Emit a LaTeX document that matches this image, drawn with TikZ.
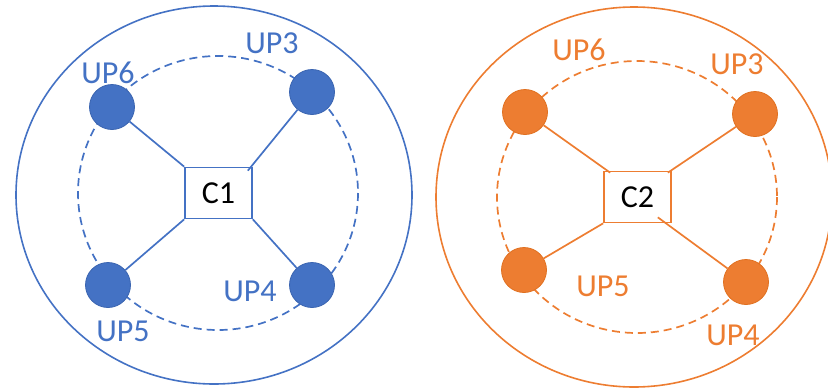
\documentclass[tikz,border=0pt]{standalone}
\usepackage{fontspec}
\setmainfont{Carlito}
\begin{document}
\begin{tikzpicture}[x=1pt,y=-1pt,
  every node/.style={inner sep=0pt},
  lbl/.style={font=\fontsize{32}{32}\selectfont},
  upnode/.style={circle,minimum size=45pt,line width=0.8pt},
  ctrl/.style={draw,line width=1.7pt,minimum width=67pt,minimum height=51pt,fill=white,font=\fontsize{32}{32}\selectfont},
  link/.style={line width=1.7pt},
  ring/.style={line width=1.7pt,dash pattern=on 8pt off 5pt},
  outer/.style={line width=1.6pt}]
\definecolor{offblue}{HTML}{4472C4}
\definecolor{offblueD}{HTML}{3A64B0}
\definecolor{offorange}{HTML}{ED7D31}
\definecolor{offorangeD}{HTML}{E07020}
\useasboundingbox (0,0) rectangle (828,389);
% ---------- left cluster ----------
\draw[outer,offblue] (214,195) ellipse [x radius=198, y radius=189];
\draw[ring,offblue] (218,193) ellipse [x radius=140, y radius=137];
\node[ctrl,draw=offblue] (c1) at (218.5,193) {C1};
\node[upnode,fill=offblue,draw=offblueD] (l6) at (112,107) {};
\node[upnode,fill=offblue,draw=offblueD] (l3) at (312,92) {};
\node[upnode,fill=offblue,draw=offblueD] (l5) at (108,285) {};
\node[upnode,fill=offblue,draw=offblueD] (l4) at (312,285) {};
\draw[link,offblue] (l6) -- (c1.north west);
\draw[link,offblue] (l3) -- ([xshift=-5pt,yshift=-4pt]c1.north east);
\draw[link,offblue] (l5) -- (c1.south west);
\draw[link,offblue] (l4) -- (c1.south east);
\node[lbl,text=offblue] (tl6) at (108,73) {UP6};
\node[lbl,text=offblue] (tl3) at (272,43) {UP3};
\node[lbl,text=offblue] (tl4) at (250,291) {UP4};
\node[lbl,text=offblue] (tl5) at (123,331) {UP5};
% ---------- right cluster ----------
\draw[outer,offorange] (634,197) ellipse [x radius=198, y radius=190];
\draw[ring,offorange] (637,197) ellipse [x radius=140, y radius=136];
\node[ctrl,draw=offorange] (c2) at (637.5,197) {C2};
\node[upnode,fill=offorange,draw=offorangeD] (r6) at (525,112) {};
\node[upnode,fill=offorange,draw=offorangeD] (r3) at (755,114) {};
\node[upnode,fill=offorange,draw=offorangeD] (r5) at (524,270) {};
\node[upnode,fill=offorange,draw=offorangeD] (r4) at (746,282) {};
\draw[link,offorange] (r6) -- ([xshift=7pt,yshift=-2pt]c2.north west);
\draw[link,offorange] (r3) -- ([xshift=-4pt,yshift=-2pt]c2.north east);
\draw[link,offorange] (r5) -- (c2.south west);
\draw[link,offorange] (r4) -- ([xshift=-14pt,yshift=6pt]c2.south east);
\node[lbl,text=offorange] (tr6) at (579,50) {UP6};
\node[lbl,text=offorange] (tr3) at (737,64) {UP3};
\node[lbl,text=offorange] (tr5) at (603,286) {UP5};
\node[lbl,text=offorange] (tr4) at (733,335) {UP4};
\end{tikzpicture}
\end{document}
